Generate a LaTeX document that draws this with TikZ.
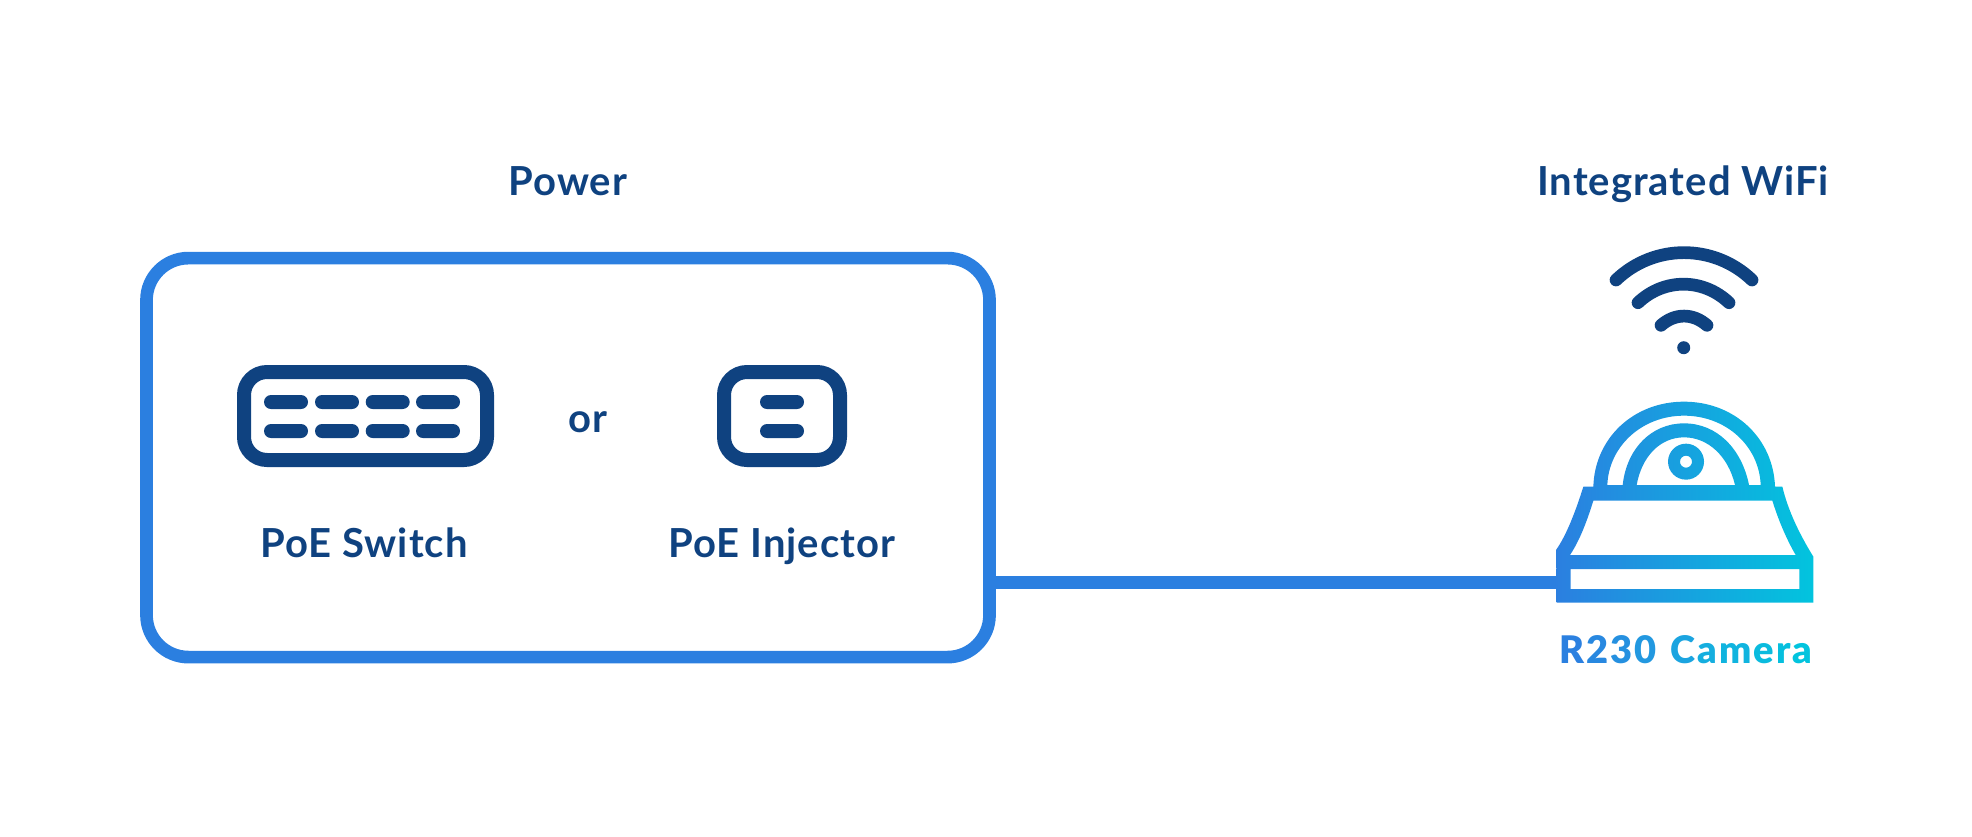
\documentclass[tikz,border=0pt]{standalone}
\usepackage{fontspec}
\setmainfont{Lato}[LetterSpace=2.5]
\newfontfamily\camfont{Lato Black}[LetterSpace=8]
\definecolor{navy}{HTML}{0F4280}
\definecolor{boxblue}{HTML}{2B7FE0}
\definecolor{camcyan}{HTML}{02C4DE}
\tikzset{
  lbl/.style={text=navy,font=\fontsize{40}{48}\selectfont\bfseries,inner sep=0pt,anchor=base},
  icon/.style={draw=navy,line width=14pt,rounded corners=23pt,inner sep=0pt,fill=white},
  slot/.style={fill=navy,rounded corners=7pt,inner sep=0pt,minimum height=14pt,minimum width=44pt},
  arc/.style={draw=navy,line width=12.7pt,line cap=round},
}
\newcommand{\zz}[2]{(1500+#1/3,380+#2/3)}
\newcommand{\gl}[2]{\textcolor[HTML]{#1}{#2}\kern2.1pt\relax}
\begin{document}
\begin{tikzpicture}[x=1pt,y=-1pt]
\useasboundingbox (0,0) rectangle (1972,836);
\node[draw=boxblue,line width=12.7pt,rounded corners=42pt,inner sep=0pt,
  minimum width=843pt,minimum height=399pt] (power) at (568,457.6) {};
\coordinate (camport) at (1560,582.3);
\draw[boxblue,line width=12.7pt] (power.east |- camport) -- (camport);
% labels
\node[lbl] (powerlbl) at (568,195) {Power};
\node[lbl] (wifilbl) at (1683,195) {Integrated WiFi};
\node[lbl] (switchlbl) at (364,557) {PoE Switch};
\node[lbl] (injlbl) at (782,557) {PoE Injector};
\node[lbl] (orlbl) at (588,432) {or};
% switch
\node[icon,minimum width=243pt,minimum height=88pt] (switch) at (365.5,416) {};
\foreach \i/\x in {a/286,b/337,c/387.7,d/438}{
  \node[slot] (sw\i1) at (\x,402) {};
  \node[slot] (sw\i2) at (\x,431) {};
}
% injector
\node[icon,minimum width=116pt,minimum height=88pt] (injector) at (782,416) {};
\node[slot] (inj1) at (782,402) {};
\node[slot] (inj2) at (782,431) {};
% wifi
\draw[arc] (1616,280) .. controls (1654,243.5) and (1714,243.5) .. (1752,280);
\draw[arc] (1638,302.7) .. controls (1664,278) and (1703,278) .. (1729,302.7);
\draw[arc] (1661,325.3) .. controls (1675,313) and (1693,313) .. (1707,325.3);
\node[circle,fill=navy,minimum size=13pt,inner sep=0pt] (wifidot) at (1683.7,347.7) {};
% camera
\path[even odd rule,shade,shading=axis,left color=boxblue,right color=camcyan]
  % silhouette
  \zz{170}{668} -- \zz{168}{510} .. controls \zz{200}{465} and \zz{228}{390} .. \zz{250}{320}
  -- \zz{280}{320} .. controls \zz{284}{175} and \zz{400}{65} .. \zz{552}{65}
  .. controls \zz{704}{65} and \zz{820}{175} .. \zz{825}{320}
  -- \zz{847}{320} .. controls \zz{865}{395} and \zz{900}{465} .. \zz{940}{530}
  -- \zz{940}{668} -- cycle
  % hole between domes
  \zz{322}{315} .. controls \zz{326}{200} and \zz{425}{107} .. \zz{552}{107}
  .. controls \zz{680}{107} and \zz{778}{200} .. \zz{782}{315}
  -- \zz{747}{315} .. controls \zz{725}{205} and \zz{650}{130} .. \zz{552}{130}
  .. controls \zz{455}{130} and \zz{380}{205} .. \zz{368}{315} -- cycle
  % inner dome
  \zz{410}{315} .. controls \zz{425}{230} and \zz{480}{172} .. \zz{552}{172}
  .. controls \zz{625}{172} and \zz{685}{230} .. \zz{705}{315} -- cycle
  % lens
  \zz{558}{245} circle[radius=18pt]
  \zz{558}{245} circle[radius=6pt]
  % housing
  \zz{280}{362} -- \zz{817}{362} .. controls \zz{832}{410} and \zz{855}{470} .. \zz{887}{525}
  -- \zz{210}{525} .. controls \zz{240}{480} and \zz{262}{420} .. \zz{280}{362} -- cycle
  % base
  \zz{212}{567} -- \zz{898}{567} -- \zz{898}{627} -- \zz{212}{627} -- cycle;
% gradient caption
\node[inner sep=0pt,anchor=base west,font=\fontsize{38}{46}\selectfont\camfont] (camlbl) at (1559,663) {%
  \gl{2B80E0}{R}\gl{2888E0}{2}\gl{2590E0}{3}\gl{2298E0}{0} \gl{1BA4E0}{C}\gl{15AEDF}{a}\gl{10B4DF}{m}\gl{0ABBDE}{e}\gl{06BFDE}{r}\textcolor[HTML]{02C4DE}{a}};
\end{tikzpicture}
\end{document}
